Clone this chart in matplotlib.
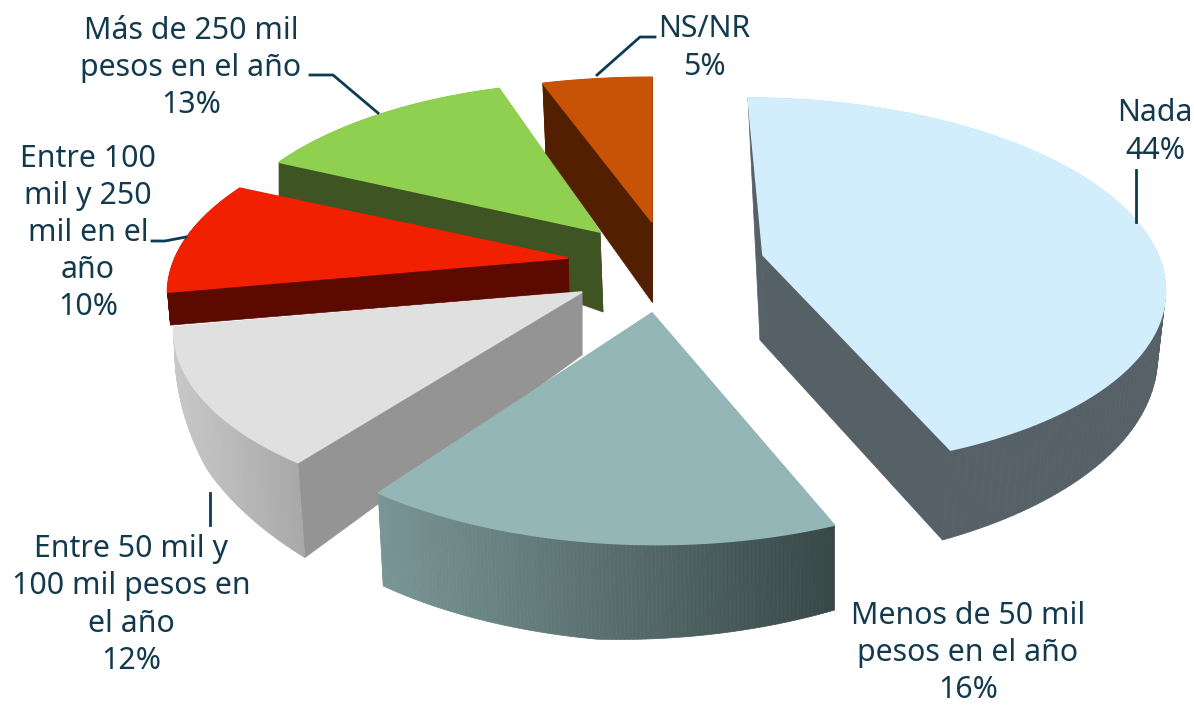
import matplotlib
matplotlib.use("Agg")
import matplotlib.pyplot as plt
from matplotlib.patches import Polygon
import numpy as np

# data
categories = ["Nada", "Menos de 50 mil\npesos en el año", "Entre 50 mil y\n100 mil pesos en\nel año",
              "Entre 100\nmil y 250\nmil en el\naño", "Más de 250 mil\npesos en el año", "NS/NR"]
values = [44, 16, 12, 10, 13, 5]

top_colors = ["#d2edfc", "#94b6b6", "#e0e0e0", "#f02000", "#90d050", "#c85205"]
wall_colors = ["#556067", "#949494", "#949494", "#5c0a00", "#3f5423", "#522000"]
rim_left = ["#556067", "#7a9696", "#c8c8c8", "#5c0a00", "#3f5423", "#522000"]
rim_right = ["#556067", "#384847", "#a8a8a8", "#5c0a00", "#3f5423", "#522000"]

# layout of each exploded slice, in pixels
apex = [(763, 255), (652, 313), (582, 292), (568, 258), (600, 232), (652, 222)]
apex_drop = [(-3, 85), (0, 60), (0, 63), (1, 34), (3, 80), (0, 80)]
# drop of the rim: fraction along the arc, dx, dy
rim_drop = [
    ([0, .45, .62, 1], [0, -4, -8, -8], [2, 25, 65, 90]),
    ([0, .5, 1], [0, 3, 5], [85, 97, 93]),
    ([0, .5, 1], [7, 4, 1], [95, 70, 22]),
    ([0, 1], [3, 0], [33, 5]),
    ([0, 1], [0, 0], [35, 5]),
    ([0, 1], [3, 0], [70, 5]),
]
draw_order = [4, 5, 3, 2, 1, 0]
scale_a = [395, 405, 400, 393, 381, 412]
scale_b = [180.5, 191, 181, 176, 176, 170]
persp = [0.15, 0.175, 0.175, 0.175, 0.175, 0.175]
shear = [0.095, 0.02, -0.06, -0.04, 0, 0]


def rim(theta, i):
    w = 1 + persp[i] * np.cos(theta)
    dy = -scale_b[i] * np.cos(theta) / w
    dx = scale_a[i] * np.sin(theta) / w + shear[i] * dy
    return dx, dy


def mix(c1, c2, t):
    c1 = np.array(matplotlib.colors.to_rgb(c1))
    c2 = np.array(matplotlib.colors.to_rgb(c2))
    return c1 + (c2 - c1) * t


fig = plt.figure(figsize=(11.94, 7.05), dpi=100)
ax = fig.add_axes([0, 0, 1, 1])
ax.set_xlim(0, 1194)
ax.set_ylim(705, 0)
ax.axis("off")

shares = np.array(values) / sum(values)
edges = np.concatenate([[0], np.cumsum(shares)]) * 2 * np.pi

for i in draw_order:
    t = np.linspace(edges[i], edges[i + 1], 120)
    frac = np.linspace(0, 1, 120)
    dx, dy = rim(t, i)
    x = apex[i][0] + dx
    y = apex[i][1] + dy
    x2 = x + np.interp(frac, rim_drop[i][0], rim_drop[i][1])
    y2 = y + np.interp(frac, rim_drop[i][0], rim_drop[i][2])
    ax2, ay2 = apex[i][0] + apex_drop[i][0], apex[i][1] + apex_drop[i][1]

    # flat side walls
    for k in (0, -1):
        ax.add_patch(Polygon([(apex[i][0], apex[i][1]), (x[k], y[k]), (x2[k], y2[k]), (ax2, ay2)],
                             fc=wall_colors[i], ec=wall_colors[i], lw=0.5))
    # outer wall, in strips so that it can carry a gradient
    lo, hi = min(x), max(x)
    for j in range(len(t) - 1):
        c = mix(rim_left[i], rim_right[i], (x[j] - lo) / (hi - lo))
        ax.add_patch(Polygon([(x[j], y[j]), (x[j + 1], y[j + 1]), (x2[j + 1], y2[j + 1]), (x2[j], y2[j])],
                             fc=c, ec=c, lw=0.5))
    # top face
    ax.add_patch(Polygon(np.vstack([[apex[i]], np.column_stack([x, y])]), fc=top_colors[i], ec=top_colors[i], lw=1.2))

# leader lines
line_color = "#0c3c55"
leaders = [([1136, 1136], [222, 170]), ([597, 640, 655], [75, 37, 37]), ([378, 333, 310], [113, 75, 75]),
           ([186, 165, 152], [237, 241, 241]), ([210, 210], [493, 525])]
for lx, ly in leaders:
    ax.plot(lx, ly, color=line_color, lw=2)

# labels: name on top, share below
label_pos = [(1155, 132), (968, 653), (131, 605), (88, 233), (191, 68), (704, 48)]
for name, v, pos in zip(categories, values, label_pos):
    ax.text(pos[0], pos[1], f"{name}\n{v}%", ha="center", va="center", multialignment="center",
            fontsize=21.8, color="#12394d", family="Noto Sans", linespacing=1.31)

fig.savefig("out.png", dpi=100)
